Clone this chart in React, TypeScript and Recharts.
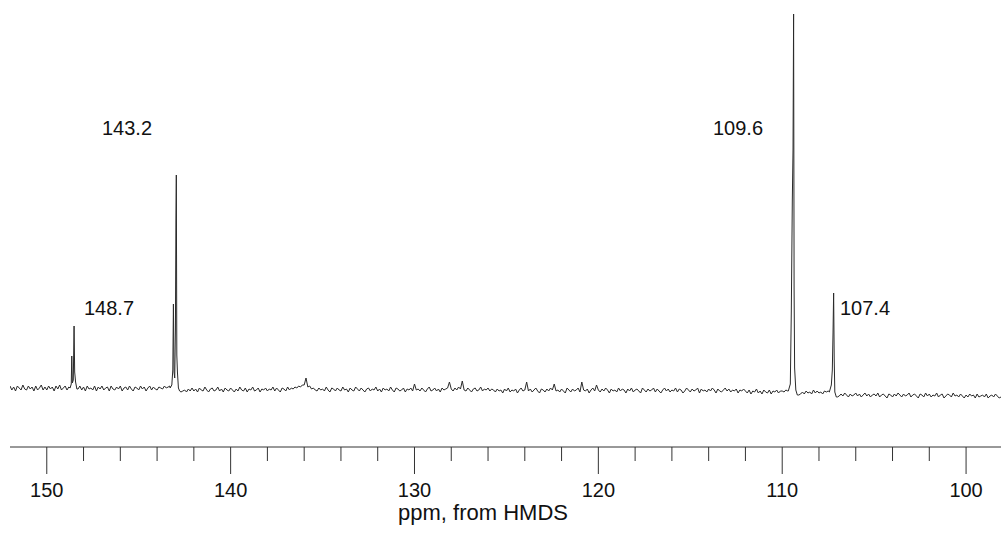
import React from "react";
import { LineChart, Line, XAxis, YAxis, ReferenceDot } from "recharts";

// sampling grid of the baseline trace (ppm)
const PPM_START = 152;
const PPM_STEP = 0.1;

// baseline trace, one value per grid step (arbitrary intensity units)
const baselineNoise = [
  2, -2, 1, -3, 2, 0, -2, 3, -1, -2, 2, -1, 1, -3, 2, -2, 0, 3, -2, 1,
  -2, 2, -1, 1, -3, 2, -1, 3, -2, 0, 2, -2, 1, 0, 0, 0, 0, -1, 2, -2,
  1, -3, 2, -1, 0, -2, 2, -3, 1, -1, 2, -2, 0, 1, -3, 2, -1, -2, 1, -1,
  2, -3, 0, 1, -2, 2, -1, -3, 1, 0, -2, 2, -1, 1, -3, 0, 2, -2, 1, -1,
  -2, 1, 0, -1, 2, 0, 1, 2, 0, 0, 0, 0, 0, -4, -3, -2, -4, -1, -3, 0,
  -3, -1, -4, 0, -2, -3, 1, -2, -4, -1, 0, -3, -2, 1, -3, -1, -4, 0, -2, -3,
  0, -2, -4, -1, -3, 1, -2, -3, 0, -4, -1, -2, 1, -3, -2, 0, -4, -1, -2, 0,
  -3, -1, -2, 1, -3, 0, -2, -4, 0, -1, -3, 1, -2, 0, -1, 1, 0, 2, 1, 3,
  3, 10, 1, 2, -1, 0, -2, -3, 0, -2, -1, -3, 1, -2, -4, 0, -1, -3, 0, -2,
  -3, 1, -2, -1, -4, 0, -2, -3, 1, -1, -3, 0, -2, -4, -1, 0, -3, -1, -2, 1,
  -3, -1, -4, 0, -2, -1, -3, 1, -2, -4, 0, -1, -3, -2, 0, -4, -1, -2, 0, -3,
  4, -2, -1, -3, 0, -2, -4, -1, 1, -3, -2, 0, -3, -1, -4, 0, -2, -1, 0, 6,
  -1, -3, 0, -2, 1, -1, 7, -2, -3, 0, -2, -4, -1, 0, -3, -2, 1, -3, -1, -2,
  0, -3, -1, -2, -4, -1, -3, -2, -5, -1, -3, 0, -4, -2, -3, -1, -5, -2, 0, -3,
  -2, 6, -3, -1, -4, -2, 0, -3, -5, -1, -2, -4, -1, -3, 0, -2, 4, -3, -2, -4,
  -1, -3, -5, 0, -2, -4, -1, -3, -2, 0, -4, 6, -2, -3, -1, -5, -2, 0, -3, 3,
  -2, -4, -1, -3, 0, -2, -5, -1, -3, -2, -4, 0, -3, -1, -2, -5, -1, -3, 0, -4,
  -2, -1, -3, -5, 0, -2, -4, -1, -3, -2, 0, -4, -1, -3, -5, -2, 0, -3, -1, -4,
  -2, -3, 0, -4, -1, -2, -5, -3, 0, -2, -4, -1, -3, -2, 0, -5, -1, -3, -2, -4,
  -1, -3, 0, -2, -5, -1, -3, -4, -2, 0, -3, -1, -4, -2, -3, -1, -5, -2, -3, -1,
  -3, -5, -2, -6, -3, -4, -1, -5, -3, -6, -2, -4, -5, -2, -6, -3, -4, -2, -5, -3,
  -3, -4, -2, -3, 0, 0, 0, 0, 0, -7, -6, -4, -6, -3, -5, -4, -6, -2, -5, -3,
  -5, -4, -6, -3, -4, -3, 0, 0, 0, 0, -9, -8, -6, -8, -5, -7, -9, -6, -8, -7,
  -5, -8, -6, -9, -7, -5, -8, -6, -9, -7, -6, -8, -5, -9, -7, -6, -8, -10, -6, -7,
  -9, -6, -8, -5, -7, -9, -6, -8, -7, -5, -9, -7, -6, -8, -10, -6, -7, -9, -5, -8,
  -6, -9, -7, -8, -5, -9, -7, -6, -10, -8, -6, -7, -9, -5, -8, -7, -9, -6, -8, -10,
  -7, -9, -6, -8, -7, -10, -6, -9, -8, -7, -9, -6, -10, -8, -7, -9, -6, -8, -10, -9,
];

// resolved peaks
const peak1487 = [
  { ppm: 148.732, v: 0 },
  { ppm: 148.667, v: 4 },
  { ppm: 148.64, v: 32 },
  { ppm: 148.607, v: 5 },
  { ppm: 148.558, v: 8 },
  { ppm: 148.515, v: 62 },
  { ppm: 148.482, v: 16 },
  { ppm: 148.433, v: 6 },
  { ppm: 148.362, v: -1 },
];

const peak1432 = [
  { ppm: 143.292, v: 0 },
  { ppm: 143.199, v: 3 },
  { ppm: 143.145, v: 18 },
  { ppm: 143.112, v: 84 },
  { ppm: 143.079, v: 16 },
  { ppm: 143.041, v: 10 },
  { ppm: 143.003, v: 58 },
  { ppm: 142.976, v: 166 },
  { ppm: 142.954, v: 213 },
  { ppm: 142.927, v: 33 },
  { ppm: 142.894, v: 16 },
  { ppm: 142.84, v: 0 },
  { ppm: 142.775, v: -3 },
];

const peak1096 = [
  { ppm: 109.668, v: -3 },
  { ppm: 109.559, v: 4 },
  { ppm: 109.505, v: 76 },
  { ppm: 109.45, v: 188 },
  { ppm: 109.412, v: 238 },
  { ppm: 109.38, v: 374 },
  { ppm: 109.353, v: 100 },
  { ppm: 109.325, v: 20 },
  { ppm: 109.26, v: -2 },
  { ppm: 109.178, v: -7 },
];

const peak1074 = [
  { ppm: 107.437, v: -4 },
  { ppm: 107.328, v: 3 },
  { ppm: 107.274, v: 18 },
  { ppm: 107.236, v: 55 },
  { ppm: 107.203, v: 95 },
  { ppm: 107.171, v: 28 },
  { ppm: 107.138, v: -4 },
  { ppm: 107.057, v: -9 },
];

const peakLabels = ["148.7", "143.2", "109.6", "107.4"];
const axisTicks = [150, 148, 146, 144, 142, 140, 138, 136, 134, 132, 130, 128, 126, 124, 122, 120, 118, 116, 114, 112, 110, 108, 106, 104, 102, 100];

const peaks = [peak1487, peak1432, peak1096, peak1074];

const spectrum = baselineNoise
  .map((v, i) => ({ ppm: +(PPM_START - i * PPM_STEP).toFixed(2), v }))
  .filter((p) => !peaks.some((pk) => p.ppm <= pk[0].ppm && p.ppm >= pk[pk.length - 1].ppm))
  .concat(peaks.flat())
  .sort((a, b) => b.ppm - a.ppm);

const FONT = "'Liberation Sans', Arial, sans-serif";

const Tick = (props: any) => {
  const { x, y, payload } = props;
  const major = payload.value % 10 === 0;
  return (
    <g>
      <line x1={x} y1={y} x2={x} y2={y + (major ? 27 : 14)} stroke="#333" strokeWidth={1} />
      {major && (
        <text x={x} y={y + 50} textAnchor="middle" fontSize={20} fontFamily={FONT} fill="#111">
          {payload.value}
        </text>
      )}
    </g>
  );
};

const PeakLabel = (text: string, cx: number, cy: number) => () => (
  <text x={cx} y={cy} textAnchor="middle" dominantBaseline="central" fontSize={20} fontFamily={FONT} fill="#111">
    {text}
  </text>
);

export default function App() {
  return (
    <div style={{ position: "absolute", left: 0, top: 0, background: "#fff" }}>
      <LineChart width={1001} height={534} data={spectrum} margin={{ top: 0, right: 0, bottom: 0, left: 10 }}>
        <XAxis
          type="number"
          dataKey="ppm"
          domain={[98.1, 152]}
          reversed
          allowDataOverflow
          ticks={axisTicks}
          interval={0}
          height={87}
          tickSize={0}
          tickMargin={0}
          tickLine={false}
          axisLine={{ stroke: "#333", strokeWidth: 1 }}
          tick={<Tick />}
          label={{
            content: () => (
              <text x={483} y={512} textAnchor="middle" dominantBaseline="central" fontSize={22} fontFamily={FONT} fill="#111">
                ppm, from HMDS
              </text>
            ),
          }}
        />
        <YAxis hide domain={[-59, 388]} allowDataOverflow />
        <Line type="linear" dataKey="v" stroke="#2a2a2a" strokeWidth={1} dot={false} isAnimationActive={false} />
        <ReferenceDot x={148.7} y={80} r={0} label={{ content: PeakLabel(peakLabels[0], 109, 308) }} />
        <ReferenceDot x={143.2} y={260} r={0} label={{ content: PeakLabel(peakLabels[1], 127, 128) }} />
        <ReferenceDot x={109.6} y={260} r={0} label={{ content: PeakLabel(peakLabels[2], 738, 128) }} />
        <ReferenceDot x={107.4} y={80} r={0} label={{ content: PeakLabel(peakLabels[3], 865, 308) }} />
      </LineChart>
    </div>
  );
}
